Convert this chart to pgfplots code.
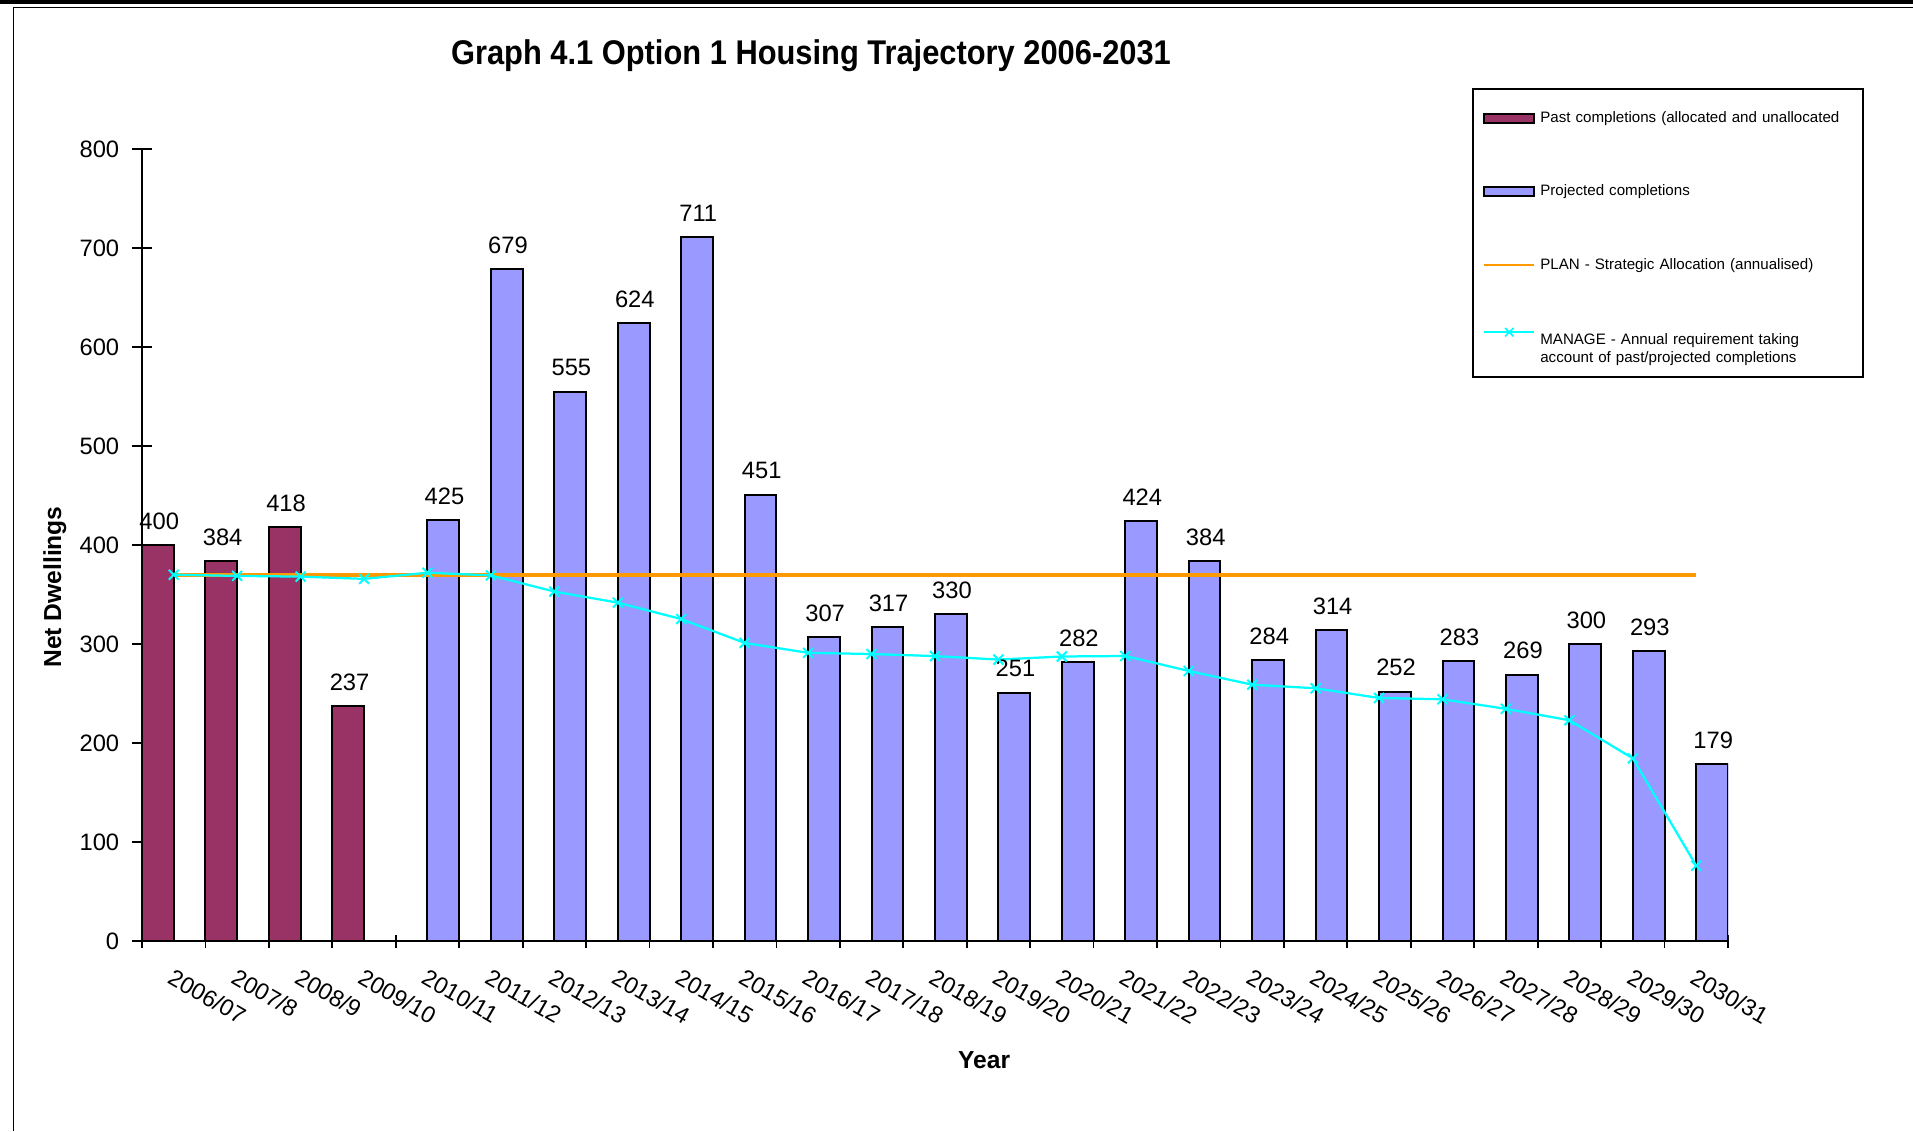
\documentclass[border=0pt]{standalone}
\usepackage{pgfplots}
\pgfplotsset{compat=1.18}
\usepackage{fontspec}
\setmainfont{Liberation Sans}
\definecolor{pastc}{HTML}{993366}
\definecolor{projc}{HTML}{9999FF}
\definecolor{planc}{HTML}{FF9900}
\definecolor{manc}{HTML}{00FFFF}
\begin{document}
\begin{tikzpicture}
\useasboundingbox (0,0) rectangle (382.6mm,-226.2mm);
\fill[white] (0,0) rectangle (382.6mm,-226.2mm);
\draw[line width=0.8mm] (0,-0.4mm) -- (382.6mm,-0.4mm);
\draw[line width=0.3mm] (2.7mm,-1.45mm) -- (382.6mm,-1.45mm);
\draw[line width=0.3mm] (2.7mm,-1.45mm) -- (2.7mm,-226.2mm);
\draw[line width=0.35mm] (294.6mm,-17.8mm) rectangle (372.6mm,-75.4mm);
\begin{axis}[
  at={(28.4mm,-188.2mm)}, anchor=south west,
  scale only axis, width=317.2mm, height=158.4mm,
  xmin=-0.5, xmax=24.5, ymin=0, ymax=800,
  axis lines=left,
  axis line style={line width=0.35mm, -},
  xtick={0,...,24},
  xticklabels={2006/07,2007/8,2008/9,2009/10,2010/11,2011/12,2012/13,2013/14,2014/15,2015/16,2016/17,2017/18,2018/19,2019/20,2020/21,2021/22,2022/23,2023/24,2024/25,2025/26,2026/27,2027/28,2028/29,2029/30,2030/31},
  minor xtick={-0.5,0.5,...,24.5},
  major x tick style={draw=none},
  ytick={0,100,...,800},
  tick align=center,
  major tick length=3.8mm,
  minor tick length=2.6mm,
  tick style={black, line width=0.35mm},
  /pgf/number format/assume math mode=true,
  ticklabel style={font=\fontsize{13.5}{16}\selectfont},
  xticklabel style={font=\fontsize{13.3}{15}\selectfont, xshift=0.2mm, yshift=-3.4mm, rotate=-30, anchor=north west, inner sep=0pt},
  yticklabel style={anchor=east, inner sep=0pt, xshift=-2.6mm},
  title={\scalebox{0.9}[1]{Graph 4.1 Option 1 Housing Trajectory 2006-2031}},
  title style={at={(axis description cs:0.4218,1.1048)}, anchor=center, font=\bfseries\fontsize{19.5}{22}\selectfont},
  ylabel={Net Dwellings},
  ylabel style={at={(axis description cs:-0.0549,0.447)}, anchor=center, font=\bfseries\fontsize{14}{16}\selectfont},
  xlabel={Year},
  xlabel style={at={(axis description cs:0.531,-0.150)}, anchor=center, font=\bfseries\fontsize{14}{16}\selectfont},
  legend style={at={(axis description cs:0.8392,1.0758)}, anchor=north west,
    draw=none, fill=none, inner xsep=2mm, inner ysep=3.7mm, row sep=10.55mm,
    font=\fontsize{8.6}{10}\selectfont,
    nodes={text width=61mm, align=left, inner xsep=1mm}},
  legend cell align=left,
]
\addplot[ybar, bar width=0.5, bar shift=-0.25, fill=pastc, draw=black, line width=0.4mm,
  nodes near coords, nodes near coords style={font=\fontsize{13.5}{16}\selectfont, inner sep=0pt, anchor=south, xshift=-2.9mm, yshift=2.9mm, black},
  legend image code/.code={\draw[fill=pastc, draw=black, line width=0.4mm] (0mm,-0.9mm) rectangle (10mm,0.9mm);}]
  coordinates {(0,400) (1,384) (2,418) (3,237)};
\addlegendentry{Past completions  (allocated  and  unallocated}
\addplot[ybar, bar width=0.5, bar shift=0.25, fill=projc, draw=black, line width=0.4mm,
  nodes near coords, nodes near coords style={font=\fontsize{13.5}{16}\selectfont, inner sep=0pt, anchor=south, xshift=3.4mm, yshift=2.9mm, black},
  legend image code/.code={\draw[fill=projc, draw=black, line width=0.4mm] (0mm,-0.9mm) rectangle (10mm,0.9mm);}]
  coordinates {(4,425) (5,679) (6,555) (7,624) (8,711) (9,451) (10,307) (11,317) (12,330) (13,251) (14,282) (15,424) (16,384) (17,284) (18,314) (19,252) (20,283) (21,269) (22,300) (23,293) (24,179)};
\addlegendentry{Projected  completions}
\addplot[planc, line width=0.8mm, no marks,
  legend image code/.code={\draw[planc, line width=0.35mm] (0mm,0mm) -- (10mm,0mm);}]
  coordinates {(0,370) (1,370) (2,370) (3,370) (4,370) (5,370) (6,370) (7,370) (8,370) (9,370) (10,370) (11,370) (12,370) (13,370) (14,370) (15,370) (16,370) (17,370) (18,370) (19,370) (20,370) (21,370) (22,370) (23,370) (24,370)};
\addlegendentry{PLAN - Strategic  Allocation   (annualised)}
\addplot[manc, line width=0.45mm, mark=x, mark size=1.4mm, mark options={line width=0.4mm},
  legend image code/.code={\draw[manc, line width=0.35mm, mark=x, mark size=1.2mm, mark repeat=2, mark phase=2, mark options={line width=0.35mm}] plot coordinates {(0mm,1.7mm) (5mm,1.7mm) (10mm,1.7mm)};}]
  coordinates {(0,370) (1,368.8) (2,368.1) (3,365.8) (4,372.0) (5,369.3) (6,353.0) (7,341.8) (8,325.2) (9,301.1) (10,291.1) (11,289.9) (12,287.8) (13,284.3) (14,287.4) (15,287.9) (16,272.8) (17,258.9) (18,255.3) (19,245.5) (20,244.2) (21,234.5) (22,223.0) (23,184.5) (24,76.0)};
\addlegendentry{MANAGE - Annual  requirement  taking\\account  of past/projected  completions}
\end{axis}
\end{tikzpicture}
\end{document}
